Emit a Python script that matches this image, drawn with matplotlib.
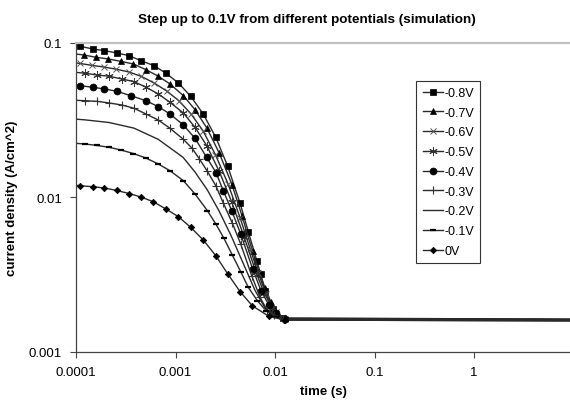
import matplotlib.pyplot as plt
from matplotlib.ticker import FixedLocator, FixedFormatter, NullLocator

plt.rcParams['font.family'] = ['Liberation Sans', 'DejaVu Sans']

# simulated current transients, time in s, current density in A/cm^2
t_m08 = [8.2e-5, 1.10e-4, 1.47e-4, 1.93e-4, 2.57e-4, 3.41e-4, 4.50e-4, 6.08e-4, 8.02e-4, 1.07e-3,
         1.42e-3, 1.90e-3, 2.54e-3, 3.35e-3, 4.45e-3, 5.39e-3, 6.55e-3, 7.18e-3, 7.93e-3, 9.5e-3,
         1.2e-2, 10]
i_m08 = [0.097, 0.0952, 0.0915, 0.0892, 0.0862, 0.0828, 0.0768, 0.0713, 0.0637, 0.0551,
         0.0452, 0.0347, 0.0245, 0.0159, 0.0092, 0.0060, 0.0039, 0.0032, 0.0025, 0.0019,
         0.00166, 0.00163]

t_m07 = [9.0e-5, 1.20e-4, 1.59e-4, 2.11e-4, 2.81e-4, 3.77e-4, 5.05e-4, 6.72e-4, 8.80e-4, 1.20e-3,
         1.57e-3, 2.07e-3, 2.74e-3, 3.70e-3, 4.66e-3, 5.94e-3, 6.91e-3, 7.93e-3, 9.12e-3, 1.05e-2,
         1.26e-2, 10]
i_m07 = [0.0855, 0.0836, 0.0808, 0.0788, 0.0761, 0.0731, 0.0672, 0.0609, 0.0543, 0.0456,
         0.0370, 0.0281, 0.0195, 0.0121, 0.0076, 0.0045, 0.0033, 0.0026, 0.0021, 0.00176,
         0.00165, 0.00163]

t_m06 = [8.2e-5, 1.10e-4, 1.45e-4, 1.91e-4, 2.55e-4, 3.41e-4, 4.55e-4, 6.08e-4, 8.12e-4, 1.08e-3,
         1.43e-3, 1.89e-3, 2.52e-3, 3.37e-3, 4.45e-3, 5.61e-3, 6.75e-3, 8.12e-3, 1.02e-2, 1.26e-2,
         10]
i_m06 = [0.0755, 0.0737, 0.0716, 0.0699, 0.0676, 0.0649, 0.0607, 0.0551, 0.0490, 0.0423,
         0.0348, 0.0270, 0.0189, 0.01225, 0.00742, 0.00467, 0.00326, 0.00237, 0.00182, 0.00164,
         0.00162]

t_m05 = [9.0e-5, 1.23e-4, 1.61e-4, 2.16e-4, 2.88e-4, 3.83e-4, 5.05e-4, 6.72e-4, 8.80e-4, 1.20e-3,
         1.57e-3, 2.06e-3, 2.74e-3, 3.67e-3, 4.88e-3, 6.44e-3, 7.75e-3, 9.33e-3, 1.23e-2, 10]
i_m05 = [0.0650, 0.0637, 0.0621, 0.0609, 0.0585, 0.0562, 0.0517, 0.0468, 0.0413, 0.0352,
         0.02847, 0.02164, 0.01484, 0.00935, 0.00558, 0.00328, 0.00242, 0.00194, 0.00164, 0.00162]

t_m04 = [8.2e-5, 1.10e-4, 1.47e-4, 1.93e-4, 2.57e-4, 3.55e-4, 5.05e-4, 6.72e-4, 8.80e-4, 1.20e-3,
         1.57e-3, 2.06e-3, 2.55e-3, 3.02e-3, 3.67e-3, 4.52e-3, 5.97e-3, 7.23e-3, 8.70e-3, 1.02e-2,
         1.26e-2, 10]
i_m04 = [0.0540, 0.0529, 0.0517, 0.0504, 0.0487, 0.0456, 0.0423, 0.0387, 0.0347, 0.02946,
         0.02415, 0.01815, 0.01451, 0.01107, 0.00822, 0.0058, 0.00344, 0.00249, 0.00201, 0.00179,
         0.00164, 0.00161]

t_m03 = [9.0e-5, 1.23e-4, 1.64e-4, 2.16e-4, 2.88e-4, 3.83e-4, 5.05e-4, 6.72e-4, 8.80e-4, 1.19e-3,
         1.47e-3, 1.74e-3, 2.09e-3, 2.54e-3, 3.02e-3, 3.72e-3, 4.52e-3, 5.83e-3, 7.07e-3, 8.37e-3,
         9.77e-3, 1.20e-2, 10]
i_m03 = [0.0427, 0.0423, 0.0419, 0.0409, 0.0397, 0.0378, 0.0347, 0.0317, 0.02805, 0.0239,
         0.0208, 0.01775, 0.01477, 0.01192, 0.00921, 0.00684, 0.0050, 0.00312, 0.00226, 0.00185,
         0.00174, 0.00163, 0.00161]

t_m02 = [9.0e-5, 1.23e-4, 2.15e-4, 3.83e-4, 6.72e-4, 1.19e-3, 1.57e-3, 2.09e-3, 2.74e-3, 3.61e-3,
         4.77e-3, 6.30e-3, 7.93e-3, 1.0e-2, 1.26e-2, 10]
i_m02 = [0.0323, 0.0318, 0.03057, 0.0281, 0.02377, 0.0182, 0.01462, 0.01118, 0.00818, 0.00568,
         0.00377, 0.0025, 0.00193, 0.00172, 0.00162, 0.0016]

t_m01 = [9.0e-5, 1.23e-4, 1.63e-4, 2.15e-4, 2.83e-4, 3.77e-4, 5.05e-4, 6.72e-4, 8.80e-4, 1.20e-3,
         1.57e-3, 2.09e-3, 2.54e-3, 3.07e-3, 3.72e-3, 4.52e-3, 5.39e-3, 6.64e-3, 8.12e-3, 1.02e-2,
         1.26e-2, 10]
i_m01 = [0.0225, 0.0222, 0.02171, 0.02113, 0.02029, 0.01926, 0.0180, 0.01647, 0.01491, 0.01284,
         0.01054, 0.00822, 0.00674, 0.00544, 0.00424, 0.00331, 0.00262, 0.00215, 0.00185, 0.00168,
         0.00161, 0.00159]

t_0 = [8.2e-5, 1.10e-4, 1.47e-4, 1.93e-4, 2.57e-4, 3.41e-4, 4.50e-4, 5.98e-4, 8.02e-4, 1.07e-3,
       1.42e-3, 1.90e-3, 2.54e-3, 3.35e-3, 4.45e-3, 5.92e-3, 8.70e-3, 1.26e-2, 10]
i_0 = [0.0121, 0.01192, 0.01174, 0.01152, 0.0111, 0.01061, 0.01007, 0.00939, 0.00842, 0.00751,
       0.00641, 0.00531, 0.0042, 0.0032, 0.00246, 0.00199, 0.0017, 0.00161, 0.00159]

labels = ['-0.8V', '-0.7V', '-0.6V', '-0.5V', '-0.4V', '-0.3V', '-0.2V', '-0.1V', '0V']
series = [(t_m08, i_m08), (t_m07, i_m07), (t_m06, i_m06), (t_m05, i_m05), (t_m04, i_m04),
          (t_m03, i_m03), (t_m02, i_m02), (t_m01, i_m01), (t_0, i_0)]

# marker, size, edge width, marker colour
styles = [('s', 4.6, 0.5, 'black'),
          ('^', 4.6, 0.5, 'black'),
          ('x', 4.5, 0.7, '#555555'),
          ((6, 2, 0), 6, 0.7, '#333333'),
          ('o', 5, 0.5, 'black'),
          ('+', 6, 0.8, '#333333'),
          ('None', 1, 0.5, 'black'),
          ('_', 5, 1.6, 'black'),
          ('D', 3.3, 0.5, 'black')]

fig = plt.figure(figsize=(5.70, 4.02), dpi=100)
ax = fig.add_axes([0.1333, 0.1219, 0.8667, 0.7687])

for (t, i), lab, (mk, ms, mew, mc) in zip(series, labels, styles):
    ax.plot(t, i, color='#2a2a2a', linewidth=1.0, marker=mk, markersize=ms,
            markeredgewidth=mew, markerfacecolor=mc, markeredgecolor=mc, label=lab)

ax.set_xscale('log')
ax.set_yscale('log')
ax.set_xlim(1e-4, 9.2)
ax.set_ylim(1e-3, 1e-1)

ax.xaxis.set_major_locator(FixedLocator([1e-4, 1e-3, 1e-2, 1e-1, 1]))
ax.xaxis.set_major_formatter(FixedFormatter(['0.0001', '0.001', '0.01', '0.1', '1']))
ax.yaxis.set_major_locator(FixedLocator([1e-3, 1e-2, 1e-1]))
ax.yaxis.set_major_formatter(FixedFormatter(['0.001', '0.01', '0.1']))
ax.xaxis.set_minor_locator(NullLocator())
ax.yaxis.set_minor_locator(NullLocator())
ax.tick_params(axis='both', direction='out', length=4, width=0.8, color='#444444',
               labelsize=9.5, pad=6)

for s in ['left', 'bottom']:
    ax.spines[s].set_color('#444444')
    ax.spines[s].set_linewidth(0.9)
ax.spines['top'].set_color('#c0c0c0')
ax.spines['top'].set_linewidth(1.6)
ax.spines['right'].set_visible(False)

ax.set_xlabel('time (s)', fontsize=9.5, fontweight='bold', labelpad=5)
ax.set_ylabel('current density (A/cm^2)', fontsize=9.5, fontweight='bold', labelpad=8)
fig.text(0.538, 0.951, 'Step up to 0.1V from different potentials (simulation)',
         ha='center', va='center', fontsize=9.7, fontweight='bold')

leg = ax.legend(loc='upper left', bbox_to_anchor=(0.689, 0.878), fontsize=9,
                frameon=True, fancybox=False, shadow=False, framealpha=1,
                edgecolor='#333333', borderpad=0.5, labelspacing=0.62,
                handlelength=1.6, handletextpad=0.15, borderaxespad=0)
leg.get_frame().set_linewidth(0.8)

plt.savefig('out.png', dpi=100)
